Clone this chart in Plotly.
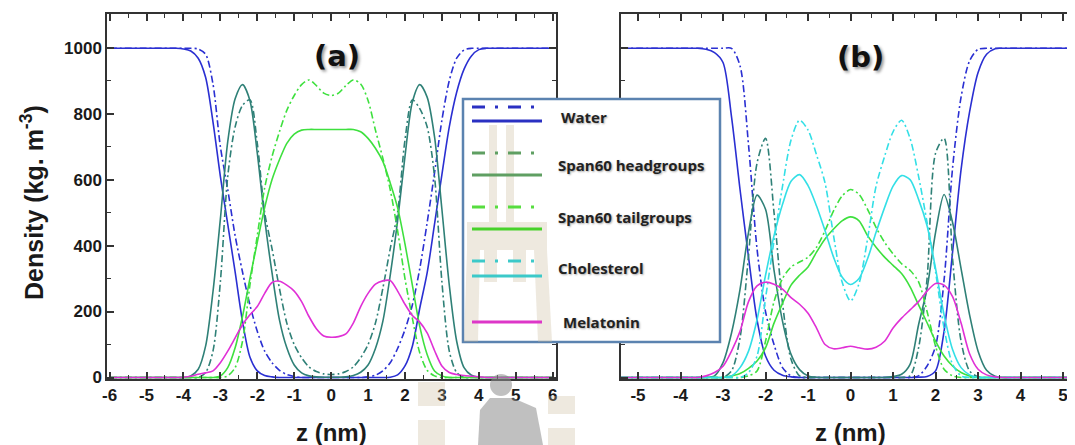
import plotly.graph_objects as go

# ---------------- data ----------------
Z_A = [-6.0, -5.0, -4.4, -4.2, -4.0, -3.8, -3.6, -3.4, -3.2, -3.0, -2.8, -2.6, -2.4, -2.2,
       -2.0, -1.8, -1.6, -1.4, -1.2, -1.0, -0.8, -0.6, -0.4, -0.2, 0.0, 0.2, 0.4, 0.6, 0.8,
       1.0, 1.2, 1.4, 1.6, 1.8, 2.0, 2.2, 2.4, 2.6, 2.8, 3.0, 3.2, 3.4, 3.6, 3.8, 4.0, 4.2,
       4.4, 5.0, 6.0]

WATER_A = [998, 998, 998, 998, 996, 990, 968, 910, 775, 610, 465, 320, 170, 62, 20, 6, 2,
           0, 0, 0, 0, 0, 0, 0, 0, 0, 0, 0, 0, 0, 0, 0,
           1, 8, 35, 95, 210, 317, 465, 615, 760, 865, 935, 975, 994, 998, 998, 998, 998]
WATER_DD_A = [998, 998, 998, 998, 998, 998,
              996, 980, 890, 700, 570, 430, 320, 220, 140, 80, 45, 22, 9, 3,
              0, 0, 0, 0, 0, 0, 0, 0, 0,
              2, 7, 20, 45, 88, 145, 220, 330, 469, 620, 780, 900, 968, 993,
              998, 998, 998, 998, 998, 998]
HEAD_A = [0, 0, 0, 0,
          0, 5, 25, 95, 260, 480, 715, 845, 888, 840, 680, 480, 317, 175, 90, 38, 14, 5, 2, 1,
          1, 1, 2, 6, 16, 38, 88, 170, 310, 475, 670, 835, 888, 850, 730, 510, 280, 110, 30, 7, 1,
          0, 0, 0, 0]
HEAD_DD_A = [0, 0, 0, 0, 0, 0,
             0, 15, 80, 290, 610, 760, 825, 842, 710, 500, 390, 270, 165, 100, 60, 32, 18, 11, 9,
             11, 18, 32, 60, 100, 165, 270, 390, 500, 720, 842, 815, 760, 610, 290, 80, 15, 0,
             0, 0, 0, 0, 0, 0]
TAIL_A = [0, 0, 0, 0, 0, 0, 0, 0,
          0, 5, 30, 90, 185, 300, 410, 515, 600, 660, 710, 738, 750, 752, 752, 752, 752, 752,
          752, 752, 745, 725, 695, 655, 590, 515, 405, 280, 155, 70, 20, 5, 0,
          0, 0, 0, 0, 0, 0, 0, 0]
TAIL_DD_A = [0, 0, 0, 0, 0, 0, 0, 0, 0,
             0, 5, 30, 110, 280, 430, 575, 670, 745, 810, 855, 888, 902, 885, 862, 855,
             862, 885, 902, 890, 840, 750, 665, 570, 445, 300, 180, 75, 22, 5, 0,
             0, 0, 0, 0, 0, 0, 0, 0, 0]
MEL_A = [0, 0, 0, 0,
         1, 4, 10, 14, 20, 45, 80, 120, 160, 190, 215, 255, 288, 292, 280, 262, 230, 185, 148,
         126, 122, 124, 132, 165, 215, 255, 283, 293, 294, 262, 222, 188, 168, 135, 82, 35, 15,
         9, 6, 4, 2,
         0, 0, 0, 0]

Z_B = [-5.4, -4.6, -4.0, -3.8, -3.6, -3.4, -3.2, -3.0, -2.8, -2.6, -2.4, -2.2, -2.0, -1.8,
       -1.6, -1.4, -1.2, -1.0, -0.8, -0.6, -0.4, -0.2, 0.0, 0.2, 0.4, 0.6, 0.8, 1.0, 1.2, 1.4,
       1.6, 1.8, 2.0, 2.2, 2.4, 2.6, 2.8, 3.0, 3.2, 3.4, 3.6, 3.8, 4.0, 4.6, 5.4]

WATER_B = [998, 998, 998, 998, 998,
           995, 985, 955, 790, 570, 365, 175, 65, 22, 7, 2,
           0, 0, 0, 0, 0, 0, 0, 0, 0, 0, 0, 0, 0, 0,
           1, 3, 20, 140, 380, 630, 805, 925, 980, 997,
           998, 998, 998, 998, 998]
WATER_DD_B = [998, 998, 998, 998, 998, 998, 998, 998, 998,
              945, 705, 390, 200, 100, 30, 5,
              0, 0, 0, 0, 0, 0, 0, 0, 0, 0, 0, 0, 0, 0,
              5, 35, 95, 295, 635, 850, 960, 995,
              998, 998, 998, 998, 998, 998, 998]
HEAD_B = [0, 0, 0, 0, 0,
          0, 5, 45, 135, 267, 440, 553, 510, 325, 170, 70, 24, 5, 1, 0,
          0, 0, 0, 0, 0, 0, 0,
          3, 10, 40, 160, 270, 440, 555, 470, 330, 190, 80, 22, 4, 0,
          0, 0, 0, 0]
HEAD_DD_B = [0, 0, 0, 0, 0, 0, 0,
             0, 20, 120, 370, 650, 725, 500, 225, 55, 5, 0,
             0, 0, 0, 0, 0, 0, 0, 0, 0, 0,
             0, 5, 90, 300, 680, 725, 360, 110, 20, 2, 0,
             0, 0, 0, 0, 0, 0]
CHOL_B = [0, 0, 0, 0, 0, 0, 0,
          0, 5, 30, 80, 175, 310, 430, 525, 595, 615, 582, 520, 445, 365, 305, 282,
          300, 360, 440, 515, 580, 612, 600, 540, 460, 330, 190, 85, 30, 8, 0,
          0, 0, 0, 0, 0, 0, 0]
CHOL_DD_B = [0, 0, 0, 0, 0, 0, 0, 0, 0,
             0, 15, 65, 240, 415, 580, 720, 780, 750, 675, 590, 430, 290, 232,
             285, 420, 580, 670, 745, 780, 725, 610, 470, 320, 150, 40, 5, 0,
             0, 0, 0, 0, 0, 0, 0, 0]
TAIL_B = [0, 0, 0, 0, 0, 0, 0,
          0, 5, 12, 28, 50, 90, 165, 225, 280, 310, 335, 380, 420, 450, 475, 487,
          475, 430, 395, 365, 340, 315, 275, 220, 166, 110, 65, 35, 15, 5, 0,
          0, 0, 0, 0, 0, 0, 0]
TAIL_DD_B = [0, 0, 0, 0, 0, 0, 0, 0, 0,
             0, 5, 20, 110, 230, 300, 335, 350, 365, 395, 445, 505, 550, 570,
             555, 510, 455, 410, 375, 345, 325, 290, 200, 95, 25, 5, 0,
             0, 0, 0, 0, 0, 0, 0, 0, 0]
MEL_B = [0, 0, 0, 0,
         0, 5, 15, 34, 80, 140, 230, 278, 289, 283, 268, 242, 222, 195, 150, 100, 87, 90, 95,
         90, 86, 92, 110, 150, 180, 205, 230, 262, 285, 280, 245, 165, 72, 25, 8, 2, 0,
         0, 0, 0, 0]

X_TICKS_A = [-6, -5, -4, -3, -2, -1, 0, 1, 2, 3, 4, 5, 6]
X_TICKS_B = [-5, -4, -3, -2, -1, 0, 1, 2, 3, 4, 5]
Y_TICKS = [0, 200, 400, 600, 800, 1000]

LEG_LABELS = ["Water", "Span60 headgroups", "Span60 tailgroups", "Cholesterol", "Melatonin"]

# ---------------- styling ----------------
C_WATER = "#2a2fd2"
C_HEAD = "#2f8077"
C_TAIL = "#3ee03e"
C_CHOL = "#33dfe6"
C_MEL = "#e030d6"
DD = "7px,3px,2px,3px"

# The page has the browser's default 8px body margin; positions below are given in
# screenshot pixels and shifted by OFF into figure pixels.
OFF = 8
W, H = 1075 - OFF, 445 - OFF
PT, PB = 14, 379          # top / bottom of plot area in screenshot pixels

fig = go.Figure()


def add(x, y, color, dash, xa, ya):
    fig.add_trace(go.Scatter(
        x=x, y=y, mode="lines", xaxis=xa, yaxis=ya, showlegend=False, hoverinfo="skip",
        line=dict(color=color, width=1.6, dash=dash, shape="spline", smoothing=0.8)))


# panel (a)
add(Z_A, WATER_DD_A, C_WATER, DD, "x", "y")
add(Z_A, WATER_A, C_WATER, "solid", "x", "y")
add(Z_A, HEAD_DD_A, C_HEAD, DD, "x", "y")
add(Z_A, HEAD_A, C_HEAD, "solid", "x", "y")
add(Z_A, TAIL_DD_A, C_TAIL, DD, "x", "y")
add(Z_A, TAIL_A, C_TAIL, "solid", "x", "y")
add(Z_A, MEL_A, C_MEL, "solid", "x", "y")
# panel (b)
add(Z_B, WATER_DD_B, C_WATER, DD, "x2", "y2")
add(Z_B, WATER_B, C_WATER, "solid", "x2", "y2")
add(Z_B, HEAD_DD_B, C_HEAD, DD, "x2", "y2")
add(Z_B, HEAD_B, C_HEAD, "solid", "x2", "y2")
add(Z_B, TAIL_DD_B, C_TAIL, DD, "x2", "y2")
add(Z_B, TAIL_B, C_TAIL, "solid", "x2", "y2")
add(Z_B, CHOL_DD_B, C_CHOL, DD, "x2", "y2")
add(Z_B, CHOL_B, C_CHOL, "solid", "x2", "y2")
add(Z_B, MEL_B, C_MEL, "solid", "x2", "y2")


def px(x):
    return (x - OFF) / W


def py(y):
    return (PB - y) / (PB - PT)


AX = "#333333"
tickfont = dict(family="Liberation Sans, Arial, sans-serif", size=17, color="#1a1a1a", weight="bold")
common = dict(showline=True, linecolor=AX, linewidth=1.5, ticks="inside", ticklen=7,
              tickwidth=1.5, tickcolor=AX, showgrid=False, zeroline=False, tickfont=tickfont,
              automargin=False)
minor_x = dict(dtick=0.5, tick0=0, ticks="inside", ticklen=4, tickcolor=AX, tickwidth=1.2)
minor_y = dict(dtick=100, tick0=0, ticks="inside", ticklen=4, tickcolor=AX, tickwidth=1.2)

fig.update_layout(
    width=W, height=H, margin=dict(l=0, r=0, t=PT - OFF, b=H - (PB - OFF), autoexpand=False),
    paper_bgcolor="white", plot_bgcolor="white", showlegend=False,
    xaxis=dict(domain=[px(107), px(556)], range=[-6.07, 6.09], anchor="y",
               tickvals=X_TICKS_A, ticktext=[str(v) for v in X_TICKS_A],
               mirror="allticks", ticklabelstandoff=0, minor=minor_x, **common),
    yaxis=dict(domain=[0, 1], range=[-4.5, 1102], anchor="x",
               tickvals=Y_TICKS, ticktext=[str(v) for v in Y_TICKS],
               mirror="allticks", ticklabelstandoff=0, minor=minor_y, **common),
    xaxis2=dict(domain=[px(621), 1.0], range=[-5.4, 5.28], anchor="y2",
                tickvals=X_TICKS_B, ticktext=[str(v) for v in X_TICKS_B],
                mirror="allticks", ticklabelstandoff=0, minor=minor_x, **common),
    yaxis2=dict(domain=[0, 1], range=[-4.5, 1102], anchor="x2",
                tickvals=Y_TICKS, showticklabels=False, mirror=False, minor=minor_y, **common),
)

ann = []
shadow = "2px 2px 3px #9a9a9a"
for cx, cy, lab in ((337, 56, "(a)"), (860, 57, "(b)")):
    ann.append(dict(x=px(cx), y=py(cy), text="<b>" + lab + "</b>", showarrow=False,
                    xref="paper", yref="paper", xanchor="center", yanchor="middle",
                    font=dict(family="DejaVu Sans, sans-serif", size=29, color="#111", shadow=shadow)))
for cx in (331, 850):
    ann.append(dict(x=px(cx), y=py(432), text="<b>z (nm)</b>", showarrow=False, xref="paper",
                    yref="paper", xanchor="center", yanchor="middle",
                    font=dict(family="Liberation Sans, Arial", size=24, color="#1a1a1a")))
ann.append(dict(x=px(32), y=py(203), text="<b>Density (kg. m<sup>-3</sup>)</b>", textangle=-90,
                showarrow=False, xref="paper", yref="paper", xanchor="center", yanchor="middle",
                font=dict(family="Liberation Sans, Arial", size=25, color="#1a1a1a")))


def poly(pts):
    return "M " + " L ".join("%.5f,%.5f" % (px(x), py(y)) for x, y in pts) + " Z"


# legend frame
shapes = [dict(type="rect", xref="paper", yref="paper", x0=px(463), x1=px(720), y0=py(342), y1=py(99),
               line=dict(color="#5b83b0", width=2.5), fillcolor="white", layer="above")]

# faint background watermark (tower + figure) seen in the reference
TAN = "rgba(200,182,150,0.30)"
GREY = "rgba(140,140,140,0.55)"
for pts in (
    [(489, 125), (497, 125), (497, 222), (489, 222)],
    [(506, 125), (514, 125), (514, 222), (506, 222)],
    [(467, 222), (547, 222), (547, 250), (467, 250)],
    [(467, 250), (480, 250), (478, 342), (464, 342)],
    [(534, 250), (547, 250), (552, 342), (538, 342)],
    [(484, 250), (497, 250), (497, 282), (484, 282)],
    [(513, 250), (526, 250), (526, 282), (513, 282)],
    [(418, 382), (445, 382), (445, 406), (418, 406)],
    [(418, 420), (445, 420), (445, 445), (418, 445)],
    [(548, 396), (575, 396), (575, 414), (548, 414)],
    [(548, 428), (575, 428), (575, 445), (548, 445)],
):
    shapes.append(dict(type="path", xref="paper", yref="paper", path=poly(pts),
                       fillcolor=TAN, line=dict(width=0), layer="above"))
shapes.append(dict(type="circle", xref="paper", yref="paper", x0=px(490), x1=px(512),
                   y0=py(396), y1=py(374), fillcolor=GREY, line=dict(width=0), layer="above"))
shapes.append(dict(type="path", xref="paper", yref="paper",
                   path=poly([(478, 445), (480, 410), (490, 398), (513, 398), (536, 408), (543, 445)]),
                   fillcolor=GREY, line=dict(width=0), layer="above"))

LEG_ROWS = [  # dashdot y, solid y, text y, text x, dash colour, solid colour
    (107, 121, 117, 559, "#2a30c2", "#2a30c2"),
    (153, 175, 165, 556, "#5f9f62", "#5f9f62"),
    (207, 229, 217, 556, "#57dd3f", "#47d22a"),
    (261, 276, 268, 556, "#3cc9c9", "#3cc9c9"),
    (None, 322, 322, 561, None, "#dd36c8"),
]
for label, (yd, ys, yt, xt, cd, cs) in zip(LEG_LABELS, LEG_ROWS):
    if yd is not None:
        shapes.append(dict(type="line", xref="paper", yref="paper", x0=px(472), x1=px(542),
                           y0=py(yd), y1=py(yd), layer="above",
                           line=dict(color=cd, width=2.8, dash="13px,10px,3px,10px")))
    shapes.append(dict(type="line", xref="paper", yref="paper", x0=px(472), x1=px(542),
                       y0=py(ys), y1=py(ys), layer="above", line=dict(color=cs, width=2.8)))
    ann.append(dict(x=px(xt), y=py(yt), text="<b>" + label + "</b>", showarrow=False, xref="paper",
                    yref="paper", xanchor="left", yanchor="middle",
                    font=dict(family="Open Sans, sans-serif", size=15, color="#222",
                              shadow="1px 1px 2px #aaaaaa")))

fig.update_layout(annotations=ann, shapes=shapes)
fig.write_html("out.html")
